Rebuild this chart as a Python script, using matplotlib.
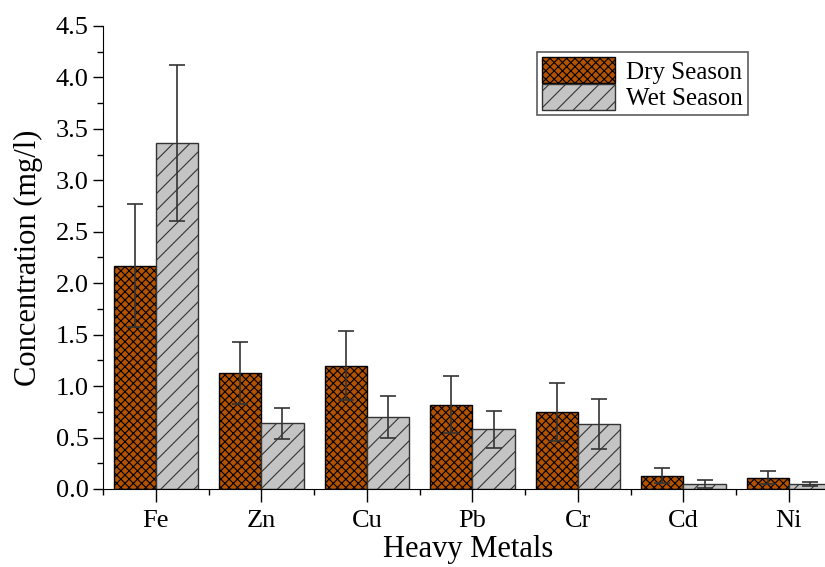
import matplotlib
matplotlib.use('Agg')
import matplotlib.pyplot as plt
import numpy as np
from matplotlib.ticker import MultipleLocator

plt.rcParams['font.family'] = ['Liberation Serif', 'DejaVu Serif']
plt.rcParams['hatch.linewidth'] = 0.8

metals = ['Fe', 'Zn', 'Cu', 'Pb', 'Cr', 'Cd', 'Ni']
dry = [2.17, 1.13, 1.20, 0.82, 0.75, 0.13, 0.11]
dry_err = [0.60, 0.30, 0.34, 0.28, 0.28, 0.07, 0.06]
wet = [3.36, 0.64, 0.70, 0.58, 0.63, 0.05, 0.05]
wet_err = [0.76, 0.15, 0.20, 0.18, 0.24, 0.04, 0.02]

fig = plt.figure(figsize=(8.25, 5.67), dpi=100)
ax = fig.add_axes([0.125, 0.1376, 0.885, 0.8166])

x = np.arange(len(metals))
w = 0.4
ekw = dict(ecolor='#333333', elinewidth=1.2, capsize=6, capthick=1.2)
ax.bar(x - w / 2, dry, w, yerr=dry_err, color='#b35200', edgecolor='black',
       hatch='xxxx', linewidth=1.0, label='Dry Season', error_kw=ekw)
ax.bar(x + w / 2, wet, w, yerr=wet_err, color='#c4c4c4', edgecolor='#333333',
       hatch='//', linewidth=1.0, label='Wet Season', error_kw=ekw)

ax.set_xlim(-0.5, 6.42)
ax.set_ylim(0, 4.5)
ax.set_xticks(x)
ax.set_xticklabels(metals)
ax.xaxis.set_minor_locator(MultipleLocator(0.5))
ax.yaxis.set_major_locator(MultipleLocator(0.5))
ax.yaxis.set_minor_locator(MultipleLocator(0.25))
ax.yaxis.set_major_formatter(matplotlib.ticker.FormatStrFormatter('%.1f'))
ax.tick_params(which='major', direction='out', length=7, width=1, labelsize=19)
ax.tick_params(which='minor', direction='out', length=4, width=1)
ax.tick_params(axis='x', which='major', length=9, pad=6)
for s in ['top', 'right']:
    ax.spines[s].set_visible(False)

ax.set_xlabel('Heavy Metals', fontsize=22, labelpad=2)
ax.set_ylabel('Concentration (mg/l)', fontsize=22, labelpad=9)

leg = ax.legend(loc='upper right', bbox_to_anchor=(0.9, 0.97), fontsize=18,
                fancybox=False, edgecolor='#333333', handlelength=2.9,
                handleheight=1.2, borderpad=0.2, labelspacing=0.02, handletextpad=0.45)
leg.get_frame().set_linewidth(1.2)

fig.savefig('out.png', dpi=100)
